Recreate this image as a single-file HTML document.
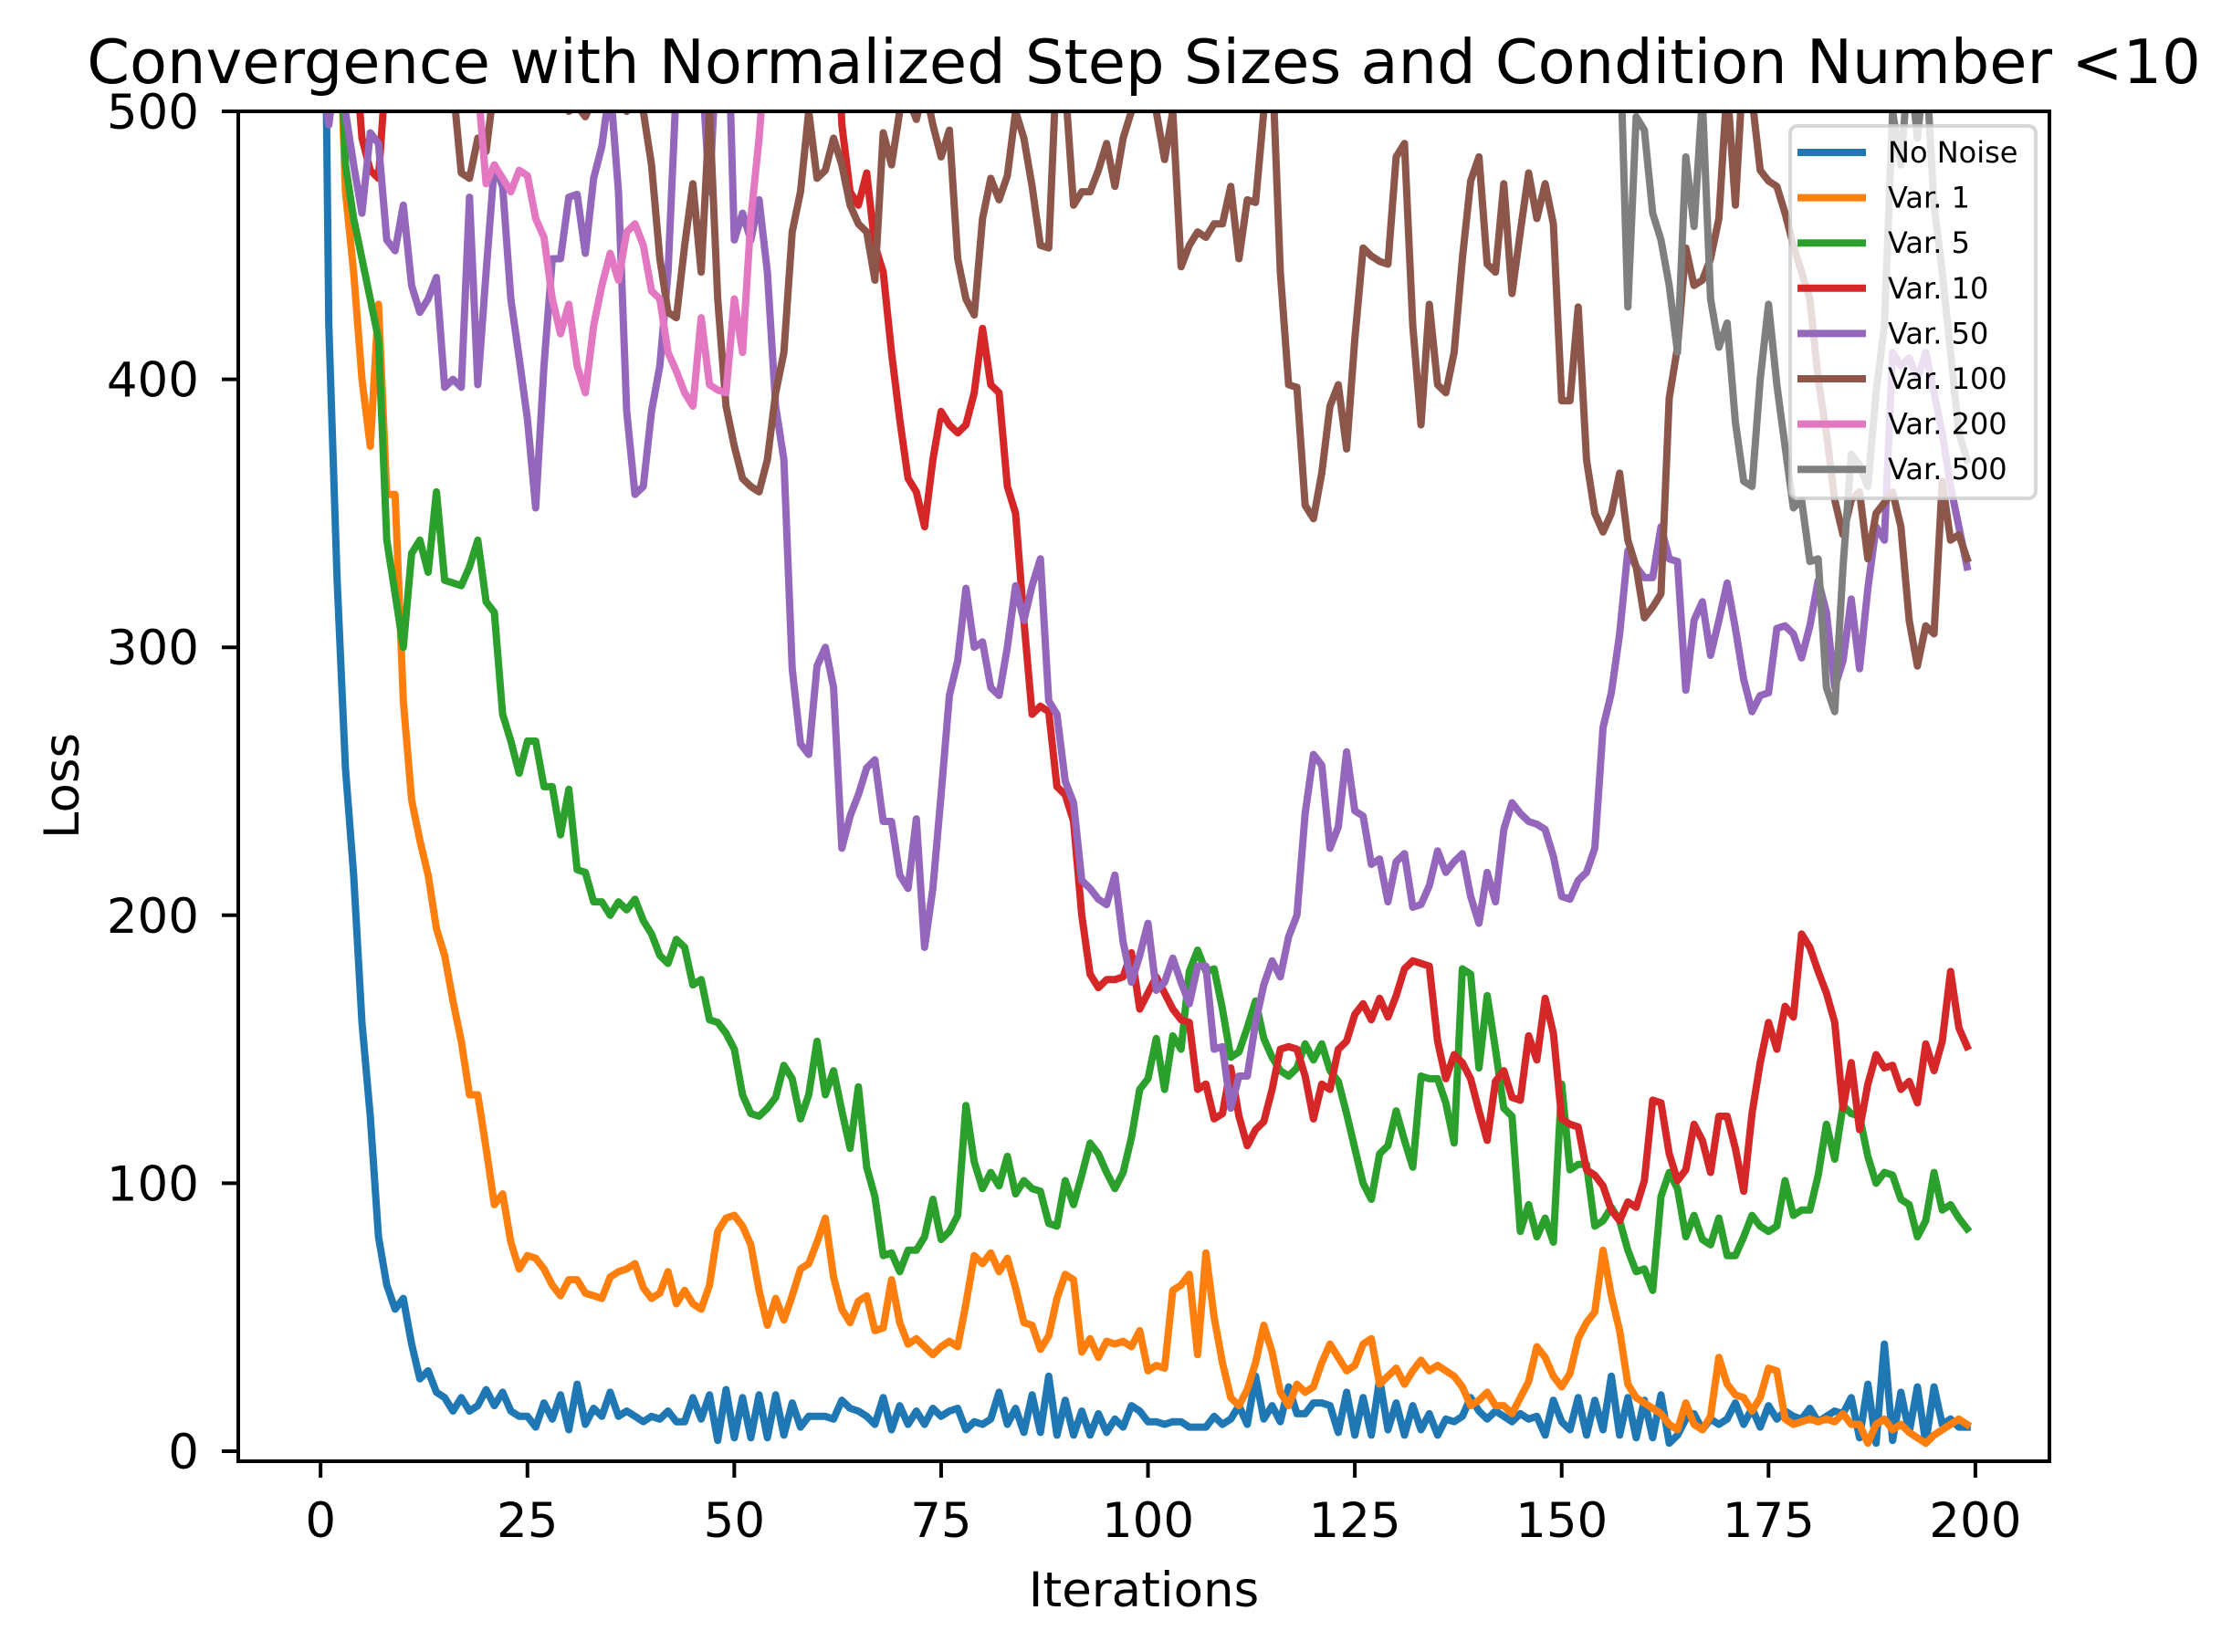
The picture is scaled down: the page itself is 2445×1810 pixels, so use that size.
<!DOCTYPE html>
<html><head><meta charset="utf-8">
<style>
html,body{margin:0;padding:0;background:#fff;}
svg{display:block;}
text{font-family:"DejaVu Sans","Liberation Sans",sans-serif;fill:#000;}
</style></head>
<body>
<svg id="chart" xmlns="http://www.w3.org/2000/svg" width="2445" height="1810" viewBox="0 0 2445 1810">
<rect x="0" y="0" width="2445" height="1810" fill="#fff"/>
<defs><clipPath id="plotclip"><rect x="261" y="122" width="1984" height="1479"/></clipPath></defs>
<text x="1253" y="91" font-size="67" text-anchor="middle">Convergence with Normalized Step Sizes and Condition Number &lt;10</text>
<g id="series" clip-path="url(#plotclip)"></g>
<g id="axes"></g>
<text x="1253" y="1760" font-size="53" text-anchor="middle">Iterations</text>
<text x="0" y="0" font-size="53" text-anchor="middle" transform="translate(86,861) rotate(-90)">Loss</text>
<g id="legend"></g>
</svg>
<script>
const seriesNames = ["No Noise","Var. 1","Var. 5","Var. 10","Var. 50","Var. 100","Var. 200","Var. 500"];
const xTicks = [0,25,50,75,100,125,150,175,200];
const yTicks = [0,100,200,300,400,500];
const noNoise = [700,420,325,255,215,160,125,80,62,53,57,40,27,30,22,20,15,20,15,17,23,17,22,15,13,13,9,18,12,21,8,25,10,16,13,22,13,15,13,11,13,12,15,11,11,20,12,21,4,23,5,20,5,21,5,21,6,18,9,13,13,13,12,19,16,15,13,10,20,8,17,10,15,10,16,13,15,16,8,11,10,12,22,10,16,7,21,7,28,6,19,6,15,6,14,7,12,9,17,15,11,11,10,11,11,9,9,9,13,10,12,17,10,28,12,17,11,24,14,14,18,18,17,7,22,6,20,6,27,8,18,6,17,8,14,6,12,11,13,20,15,12,15,13,11,14,12,13,6,19,11,8,20,6,19,8,28,6,20,5,19,5,21,3,6,12,14,8,12,10,12,18,10,16,9,17,12,15,13,12,16,11,13,15,14,20,5,25,3,40,4,22,7,24,3,24,10,12,9,9];
const var1 = [800,650,560,470,440,400,375,428,357,357,280,243,228,215,195,185,168,153,133,133,113,92,96,78,68,73,72,68,62,58,64,64,59,58,57,65,67,68,70,61,57,59,67,55,60,55,53,62,82,87,88,84,77,60,47,57,49,58,68,70,78,87,65,53,48,56,58,45,46,64,48,40,42,39,36,39,41,39,55,73,70,74,67,72,61,48,47,38,43,57,66,64,37,42,35,41,40,41,39,45,30,32,31,60,62,66,36,74,50,33,20,17,23,33,47,37,22,17,25,22,24,33,40,35,30,32,40,42,25,28,31,25,30,34,30,32,30,28,24,17,19,22,17,17,14,20,26,39,35,28,24,29,42,48,52,75,58,45,25,20,18,16,14,10,8,18,10,8,13,35,25,21,20,15,20,31,30,12,10,11,12,11,12,11,14,10,10,3,10,12,8,10,7,5,3,6,8,10,12,10];
const var5 = [800,650,560,480,460,445,430,415,340,320,300,335,340,328,358,325,324,323,330,340,317,313,275,265,253,265,265,248,248,230,247,217,216,205,205,200,205,202,206,198,193,185,182,191,188,174,176,161,160,156,150,133,126,125,128,132,144,139,124,133,153,133,142,127,113,136,106,95,73,74,67,75,75,80,94,79,82,88,129,108,98,104,99,110,96,101,98,97,85,84,101,92,103,115,111,104,98,104,117,135,139,154,135,155,150,179,187,179,180,165,147,149,158,168,154,147,142,140,143,152,146,152,142,138,126,113,100,94,111,114,127,116,106,140,139,139,130,115,180,178,143,170,150,128,125,82,92,80,87,78,137,105,107,107,84,86,91,86,75,67,68,60,95,104,98,80,88,79,77,87,73,73,80,88,84,82,84,101,88,90,90,103,122,109,129,126,125,110,100,104,103,94,92,80,86,104,90,92,87,83];
const var10 = [700,650,600,560,530,490,478,475,520,600,600,600,600,600,600,600,600,600,600,600,600,600,600,600,600,600,600,600,600,600,600,600,600,600,600,600,600,600,600,600,600,600,600,600,600,600,600,600,600,600,600,600,600,600,600,600,600,600,600,600,600,600,560,495,470,465,477,450,440,410,385,363,358,345,370,388,383,380,383,395,419,398,395,360,350,310,275,278,276,248,245,235,200,178,173,176,176,177,186,165,171,177,171,165,161,160,135,137,124,126,143,125,114,120,123,135,150,151,150,140,124,137,135,150,153,163,167,161,169,162,170,180,183,182,181,153,139,148,145,139,127,116,138,142,132,131,155,146,169,156,124,122,121,105,103,99,90,86,93,91,101,131,130,111,101,105,122,116,104,125,125,113,97,126,145,160,150,166,162,193,188,179,171,160,128,145,120,137,148,143,144,135,138,130,152,142,153,179,158,151];
const var50 = [520,495,520,500,480,462,492,488,452,448,465,435,425,430,438,397,400,397,468,398,440,480,472,430,408,385,352,405,445,445,468,469,447,475,487,510,470,388,357,360,388,405,440,510,540,600,520,470,530,560,452,462,452,467,440,390,370,292,264,260,293,300,285,225,237,245,255,258,235,235,215,210,236,188,210,245,282,295,322,300,302,285,282,300,323,310,323,333,280,275,250,242,213,210,206,204,215,190,175,185,197,172,175,184,175,167,181,181,150,151,128,140,140,160,174,183,177,192,200,238,260,256,225,233,261,239,237,219,221,205,220,223,203,204,211,224,216,220,223,207,197,216,205,232,242,238,235,234,232,222,207,206,213,216,225,270,283,305,336,330,326,326,345,333,332,284,310,317,297,310,324,307,288,276,282,283,307,308,305,296,308,325,313,285,295,318,292,322,345,340,410,405,408,400,410,395,380,360,345,330];
const var100 = [700,680,650,640,620,600,600,600,600,600,600,600,600,600,600,600,510,477,475,490,485,510,600,600,600,600,600,600,600,600,500,502,498,505,600,600,520,500,560,500,480,445,425,423,450,473,440,500,430,390,375,363,360,358,370,395,410,455,470,500,475,478,490,480,465,458,455,437,492,480,500,505,497,510,495,483,493,445,430,424,460,475,467,476,500,490,472,450,449,520,510,465,470,470,478,488,472,490,500,505,510,500,482,500,442,450,455,453,458,458,472,445,467,466,500,520,440,398,397,353,348,365,390,398,374,415,449,446,444,443,483,488,420,383,428,398,395,410,445,474,483,443,440,473,432,455,477,460,473,458,392,392,427,370,350,343,350,365,340,330,311,315,320,393,412,449,435,437,445,460,510,465,520,505,478,474,472,462,450,440,430,400,380,355,342,355,358,333,350,354,358,345,310,293,308,305,362,340,342,333];
const var200 = [700,680,650,640,620,600,600,600,600,600,600,600,600,600,600,600,600,600,600,510,473,480,475,470,478,476,460,453,430,417,428,405,395,420,435,447,437,455,458,450,433,430,410,403,395,390,423,398,396,395,430,410,460,490,530,600,600,600,600,600,600,600,600,600,600,600,600,600,600,600,600,600,600,600,600,600,600,600,600,600,600,600,600,600,600,600,600,600,600,600,600,600,600,600,600,600,600,600,600,600,600,600,600,600,600,600,600,600,600,600,600,600,600,600,600,600,600,600,600,600,600,600,600,600,600,600,600,600,600,600,600,600,600,600,600,600,600,600,600,600,600,600,600,600,600,600,600,600,600,600,600,600,600,600,600,600,600,600,600,600,600,600,600,600,600,600,600,600,600,600,600,600,600,600,600,600,600,600,600,600,600,600,600,600,600,600,600,600,600,600,600,600,600,600,600,600,600,600,600,600];
const var500 = [700,680,650,640,620,600,600,600,600,600,600,600,600,600,600,600,600,600,600,600,600,600,600,600,600,600,600,600,600,600,600,600,600,600,600,600,600,600,600,600,600,600,600,600,600,600,600,600,600,600,600,600,600,600,600,600,600,600,600,600,600,600,600,600,600,600,600,600,600,600,600,600,600,600,600,600,600,600,600,600,600,600,600,600,600,600,600,600,600,600,600,600,600,600,600,600,600,600,600,600,600,600,600,600,600,600,600,600,600,600,600,600,600,600,600,600,600,600,600,600,600,600,600,600,600,600,600,600,600,600,600,600,600,600,600,600,600,600,600,600,600,600,600,600,600,600,600,600,600,600,600,600,600,600,600,600,600,530,427,498,493,462,452,435,410,483,457,505,430,412,421,384,362,360,400,428,398,375,352,355,332,333,285,276,330,372,368,360,395,420,500,480,520,490,520,465,440,410,380,370];
const allSeries = [noNoise,var1,var5,var10,var50,var100,var200,var500];
const colors = ["#1f77b4","#ff7f0e","#2ca02c","#d62728","#9467bd","#8c564b","#e377c2","#7f7f7f"];

const NS = "http://www.w3.org/2000/svg";
const X0 = 261, X1 = 2245, Y0 = 1601, Y1 = 122;
const xMin = -9.95, xMax = 208.95, yMin = -3.75, yMax = 500;
function xScale(v){ return X0 + (v - xMin) / (xMax - xMin) * (X1 - X0); }
function yScale(v){ return Y0 - (v - yMin) / (yMax - yMin) * (Y0 - Y1); }

const sg = document.getElementById('series');
allSeries.forEach((arr, si) => {
  const d = arr.map((v, i) => (i ? 'L' : 'M') + xScale(i).toFixed(1) + ',' + yScale(v).toFixed(1)).join(' ');
  const p = document.createElementNS(NS, 'path');
  p.setAttribute('d', d);
  p.setAttribute('fill', 'none');
  p.setAttribute('stroke', colors[si]);
  p.setAttribute('stroke-width', '8');
  p.setAttribute('stroke-linejoin', 'round');
  p.setAttribute('stroke-linecap', 'square');
  
  
  sg.appendChild(p);
});

const ax = document.getElementById('axes');
const frame = document.createElementNS(NS, 'rect');
frame.setAttribute('x', X0); frame.setAttribute('y', Y1);
frame.setAttribute('width', X1 - X0); frame.setAttribute('height', Y0 - Y1);
frame.setAttribute('fill', 'none'); frame.setAttribute('stroke', '#000'); frame.setAttribute('stroke-width', '4');


ax.appendChild(frame);

xTicks.forEach(t => {
  const x = xScale(t);
  const l = document.createElementNS(NS, 'line');
  l.setAttribute('x1', x); l.setAttribute('x2', x); l.setAttribute('y1', Y0); l.setAttribute('y2', Y0 + 18);
  l.setAttribute('stroke', '#000'); l.setAttribute('stroke-width', '4');
  
  
  ax.appendChild(l);
  const tx = document.createElementNS(NS, 'text');
  tx.setAttribute('x', x); tx.setAttribute('y', 1684);
  tx.setAttribute('font-size', '53'); tx.setAttribute('text-anchor', 'middle');
  tx.textContent = t;
  
  
  ax.appendChild(tx);
});
yTicks.forEach(t => {
  const y = yScale(t);
  const l = document.createElementNS(NS, 'line');
  l.setAttribute('x1', X0 - 18); l.setAttribute('x2', X0); l.setAttribute('y1', y); l.setAttribute('y2', y);
  l.setAttribute('stroke', '#000'); l.setAttribute('stroke-width', '4');
  
  
  ax.appendChild(l);
  const tx = document.createElementNS(NS, 'text');
  tx.setAttribute('x', 218); tx.setAttribute('y', y + 19);
  tx.setAttribute('font-size', '53'); tx.setAttribute('text-anchor', 'end');
  tx.textContent = t;
  
  
  ax.appendChild(tx);
});

const lg = document.getElementById('legend');
const box = document.createElementNS(NS, 'rect');
box.setAttribute('x', 1961); box.setAttribute('y', 138); box.setAttribute('width', 269); box.setAttribute('height', 408);
box.setAttribute('rx', 8); box.setAttribute('fill', 'rgba(255,255,255,0.8)');
box.setAttribute('stroke', 'rgba(204,204,204,0.8)'); box.setAttribute('stroke-width', '4');


lg.appendChild(box);
seriesNames.forEach((n, i) => {
  const y = 167 + i * 49.6;
  const l = document.createElementNS(NS, 'line');
  l.setAttribute('x1', 1969); l.setAttribute('x2', 2044); l.setAttribute('y1', y); l.setAttribute('y2', y);
  l.setAttribute('stroke', colors[i]); l.setAttribute('stroke-width', '8');
  
  
  lg.appendChild(l);
  const tx = document.createElementNS(NS, 'text');
  tx.setAttribute('x', 2068); tx.setAttribute('y', y + 11);
  tx.setAttribute('font-size', '32');
  tx.textContent = n;
  
  
  lg.appendChild(tx);
});
</script>
</body></html>
